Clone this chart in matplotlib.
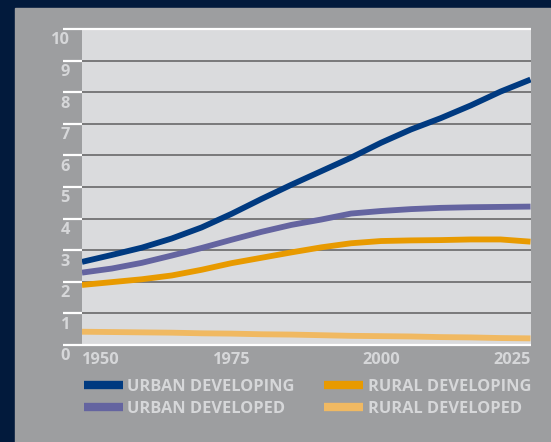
import matplotlib
matplotlib.use("Agg")
import matplotlib.pyplot as plt
from matplotlib.lines import Line2D
from matplotlib.patches import Rectangle

plt.rcParams['font.family'] = ['Open Sans', 'DejaVu Sans']

years = [1950, 1955, 1960, 1965, 1970, 1975, 1980, 1985,
         1990, 1995, 2000, 2005, 2010, 2015, 2020, 2025]
urban_developing = [2.63, 2.85, 3.08, 3.37, 3.72, 4.15, 4.62, 5.07,
                    5.50, 5.93, 6.40, 6.82, 7.18, 7.58, 8.02, 8.40]
urban_developed = [2.29, 2.42, 2.60, 2.83, 3.07, 3.33, 3.58, 3.80,
                   3.97, 4.16, 4.24, 4.30, 4.34, 4.36, 4.37, 4.38]
rural_developing = [1.90, 1.99, 2.08, 2.20, 2.38, 2.59, 2.76, 2.93,
                    3.09, 3.22, 3.29, 3.31, 3.32, 3.34, 3.34, 3.27]
rural_developed = [0.42, 0.41, 0.40, 0.39, 0.37, 0.36, 0.34, 0.33,
                   0.31, 0.29, 0.28, 0.27, 0.25, 0.24, 0.22, 0.21]

series_names = ["URBAN DEVELOPING", "URBAN DEVELOPED",
                "RURAL DEVELOPING", "RURAL DEVELOPED"]
series_values = [urban_developing, urban_developed, rural_developing, rural_developed]
series_colors = ["#003a80", "#6464a0", "#e89a00", "#f0b962"]

y_ticks = list(range(0, 11))
x_ticks = [1950, 1975, 2000, 2025]

NAVY = "#021a3c"
PANEL = "#9d9ea0"
PLOT_BG = "#dadbdd"
GRID = "#717172"
TEXT = "#d6d7d9"
FS = 11.8
FW = "bold"

W, H = 551, 442
fig = plt.figure(figsize=(W / 100, H / 100), dpi=100, facecolor=NAVY)
fig.patches.append(Rectangle((15 / W, 0), 1 - 15 / W, 1 - 8 / H,
                             transform=fig.transFigure, color=PANEL, zorder=-5))

ax = fig.add_axes([82 / W, 1 - 345 / H, 448.5 / W, 316 / H])
ax.set_facecolor(PLOT_BG)
ax.set_xlim(1950, 2025)
ax.set_ylim(0, 10)
for s in ax.spines.values():
    s.set_visible(False)
ax.set_xticks([])
ax.set_yticks([])

# grid lines, with white stubs on the left
ytr = ax.get_yaxis_transform()
stub = -19 / 448.5
for v in y_ticks:
    if v in (0, 10):
        ax.plot([stub, 1.002], [v, v], color="white", lw=1.6, transform=ytr,
                clip_on=False, zorder=1, solid_capstyle="butt")
    else:
        ax.plot([stub, 0], [v, v], color="white", lw=1.6, transform=ytr,
                clip_on=False, zorder=1, solid_capstyle="butt")
        ax.plot([0, 1], [v, v], color=GRID, lw=1.3, transform=ytr,
                zorder=1, solid_capstyle="butt")
    ax.text(-12 / 448.5, v - 0.36, str(v), transform=ytr, ha="right", va="center",
            fontsize=FS, fontweight=FW, color=TEXT)

# series
for vals, c in zip(series_values, series_colors):
    ax.plot(years, vals, color=c, lw=4.2, zorder=3, solid_capstyle="butt")

xtr = ax.get_xaxis_transform()
for i, yr in enumerate(x_ticks):
    ha = "left" if i == 0 else ("right" if i == len(x_ticks) - 1 else "center")
    ax.text(yr, -15 / 316, str(yr), transform=xtr, ha=ha, va="center",
            fontsize=FS, fontweight=FW, color=TEXT)

handles = [Line2D([], [], color=c, lw=6, solid_capstyle="butt") for c in series_colors]
leg = fig.legend(handles, series_names, ncol=2, loc="upper left",
                 bbox_to_anchor=(84 / W, 1 - 379 / H), frameon=False,
                 borderpad=0, borderaxespad=0, handlelength=2.35, handletextpad=0.3,
                 columnspacing=1.8, labelspacing=0.36, fontsize=FS)
for t in leg.get_texts():
    t.set_color(TEXT)
    t.set_fontweight(FW)

fig.savefig("out.png", dpi=100, facecolor=NAVY)
